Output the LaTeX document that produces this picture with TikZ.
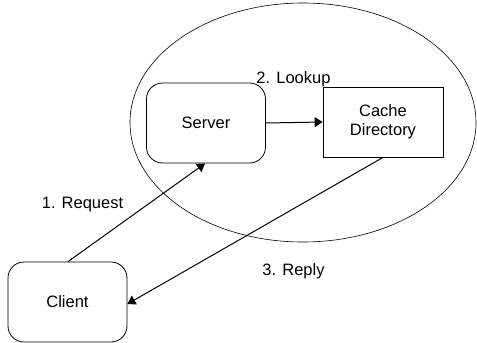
\documentclass[tikz,border=0pt]{standalone}
\usepackage{fontspec}
\setmainfont{Liberation Sans}
\usetikzlibrary{arrows.meta}
\begin{document}
\begin{tikzpicture}[x=1pt,y=-1pt,
  lbl/.style={font=\fontsize{16.5}{19}\selectfont, inner sep=0pt},
  roundbox/.style={draw, line width=0.8pt, rounded corners=16pt, minimum width=119pt, minimum height=80pt, inner sep=0pt},
  sharpbox/.style={draw, line width=0.8pt, minimum width=120pt, minimum height=70pt, inner sep=0pt, align=center},
  conn/.style={line width=1pt, -{Triangle[length=8pt,width=10pt]}}]
  \useasboundingbox (0,0) rectangle (477,343);
  % grouping ellipse around server and directory
  \draw[line width=0.6pt] (303,122.5) ellipse [x radius=173pt, y radius=119.5pt];
  % nodes
  \node[roundbox, lbl] (server) at (206,123) {Server};
  \node[sharpbox, lbl] (cache) at (383,122) {Cache\\Directory};
  \node[roundbox, lbl] (client) at (67.5,302) {Client};
  % labels
  \node[lbl, anchor=base] (lookup) at (293.5,83) {2. Lookup};
  \node[lbl, anchor=base] (request) at (82.5,208) {1. Request};
  \node[lbl, anchor=base] (reply) at (293.5,275) {3. Reply};
  % connectors
  \draw[conn] (server.east) -- (cache.west);
  \draw[conn] ([xshift=0.5pt]client.north) -- ([xshift=-1pt]server.south);
  \draw[conn] (cache.south) -- ([yshift=-2pt]client.east);
\end{tikzpicture}
\end{document}
